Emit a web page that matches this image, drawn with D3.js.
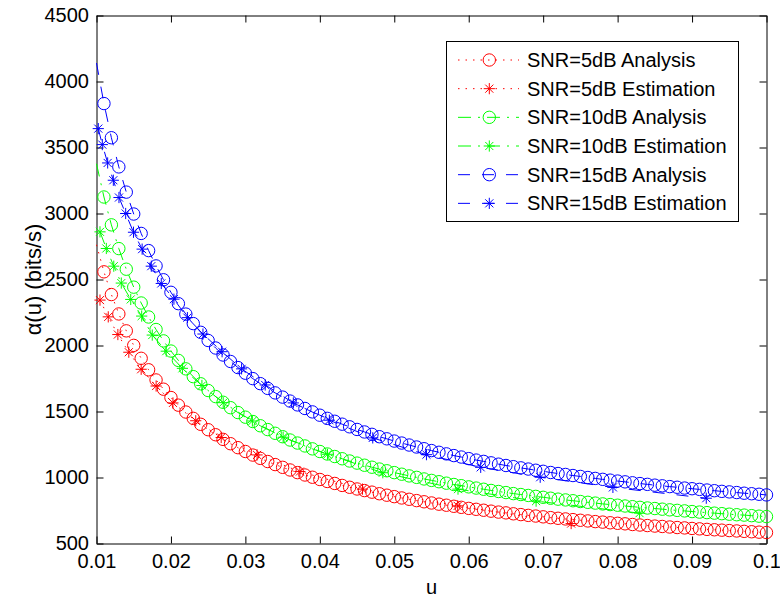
<!DOCTYPE html>
<html>
<head>
<meta charset="utf-8">
<script src="https://cdn.jsdelivr.net/npm/d3@7"></script>
<style>
  html, body { margin: 0; padding: 0; background: #fff; }
  svg { display: block; }
  text { font-family: "Liberation Sans", Arial, Helvetica, sans-serif; fill: #000; }
</style>
</head>
<body>
<svg id="chart" width="780" height="597"></svg>
<script>
// u grid (0.010 .. 0.100, step 0.001) used by the analytical curves
const uGrid = d3.range(10, 101).map(n => n / 1000);

// Analytical throughput α(u) in bits/s
const analysis5 = [
  2763, 2558, 2386, 2239, 2111, 2001, 1903, 1816, 1739, 1669,
  1606, 1548, 1496, 1448, 1403, 1362, 1324, 1289, 1256, 1226,
  1197, 1170, 1145, 1121, 1098, 1077, 1057, 1037, 1019, 1002,
  985, 970, 955, 940, 926, 913, 901, 889, 877, 866,
  855, 845, 835, 825, 816, 807, 798, 790, 782, 774,
  766, 759, 752, 745, 738, 732, 725, 719, 713, 708,
  702, 696, 691, 686, 681, 676, 671, 666, 662, 657,
  653, 649, 644, 640, 636, 632, 629, 625, 621, 618,
  614, 611, 607, 604, 601, 598, 595, 592, 589, 586,
  583
];
const analysis10 = [
  3377, 3125, 2914, 2734, 2578, 2442, 2322, 2216, 2121, 2035,
  1958, 1887, 1823, 1764, 1710, 1659, 1613, 1570, 1529, 1492,
  1457, 1424, 1392, 1363, 1335, 1309, 1284, 1261, 1239, 1217,
  1197, 1178, 1159, 1142, 1125, 1109, 1093, 1078, 1064, 1051,
  1037, 1025, 1012, 1001, 989, 978, 968, 957, 947, 938,
  929, 920, 911, 902, 894, 886, 878, 871, 864, 857,
  850, 843, 836, 830, 824, 818, 812, 806, 800, 795,
  790, 784, 779, 774, 769, 765, 760, 755, 751, 747,
  742, 738, 734, 730, 726, 722, 718, 715, 711, 707,
  704
];
const analysis15 = [
  4140, 3833, 3574, 3353, 3162, 2996, 2849, 2719, 2603, 2498,
  2403, 2317, 2238, 2166, 2100, 2038, 1981, 1928, 1879, 1833,
  1790, 1749, 1711, 1675, 1641, 1609, 1579, 1550, 1523, 1497,
  1472, 1448, 1426, 1404, 1384, 1364, 1345, 1327, 1309, 1293,
  1276, 1261, 1246, 1231, 1218, 1204, 1191, 1179, 1166, 1155,
  1143, 1132, 1122, 1111, 1101, 1091, 1082, 1073, 1064, 1055,
  1047, 1038, 1030, 1023, 1015, 1008, 1000, 993, 986, 980,
  973, 967, 960, 954, 948, 942, 937, 931, 926, 920,
  915, 910, 905, 900, 895, 891, 886, 881, 877, 873,
  868
];

// Estimated throughput at the sampled u values
const est5U = [0.01047, 0.01158, 0.01287, 0.01434, 0.0160, 0.01801, 0.02027, 0.02333,
  0.02675, 0.03157, 0.03732, 0.04573, 0.05852, 0.07376];
const est5 = [2344, 2217, 2083, 1949, 1820, 1693, 1565, 1430, 1303, 1171, 1045, 912, 785, 651];

const est10U = [0.01047, 0.01132, 0.01232, 0.01333, 0.0146, 0.01607, 0.01749, 0.01937,
  0.02154, 0.02416, 0.02702, 0.03094, 0.03507, 0.04103, 0.04846, 0.05856, 0.06905, 0.08295];
const est10 = [2861, 2735, 2601, 2473, 2349, 2223, 2079, 1957, 1827, 1697, 1567, 1428,
  1305, 1176, 1036, 912, 821, 730];

const est15U = [0.01024, 0.01078, 0.0115, 0.01226, 0.01302, 0.01392, 0.01497, 0.01613,
  0.01736, 0.0187, 0.0204, 0.02221, 0.0243, 0.02687, 0.02949, 0.03266, 0.03644, 0.04128,
  0.04711, 0.05432, 0.06161, 0.0696, 0.07937, 0.09191];
const est15 = [3643, 3522, 3383, 3252, 3121, 3000, 2858, 2730, 2601, 2470, 2351, 2211,
  2087, 1953, 1823, 1701, 1565, 1434, 1300, 1173, 1077, 1002, 925, 843];

const xTicks = [0.01, 0.02, 0.03, 0.04, 0.05, 0.06, 0.07, 0.08, 0.09, 0.1];
const yTicks = [500, 1000, 1500, 2000, 2500, 3000, 3500, 4000, 4500];
const legendLabels = [
  "SNR=5dB Analysis", "SNR=5dB Estimation",
  "SNR=10dB Analysis", "SNR=10dB Estimation",
  "SNR=15dB Analysis", "SNR=15dB Estimation"
];

const svg = d3.select("#chart");
const L = 96.5, R = 766.5, T = 15.5, B = 543.5;
const x = d3.scaleLinear().domain([0.01, 0.1]).range([L, R]);
const y = d3.scaleLinear().domain([500, 4500]).range([B, T]);

const styles = {
  dot:     "1.5,6",
  dashdot: "13,7,2,7",
  dash:    "12,12"
};

const series = [
  { u: uGrid,  v: analysis5,  color: "#ff0000", dash: styles.dot,     marker: "o", skipFirst: true },
  { u: est5U,  v: est5,       color: "#ff0000", dash: styles.dot,     marker: "*" },
  { u: uGrid,  v: analysis10, color: "#00ff00", dash: styles.dashdot, marker: "o", skipFirst: true },
  { u: est10U, v: est10,      color: "#00ff00", dash: styles.dashdot, marker: "*" },
  { u: uGrid,  v: analysis15, color: "#0000ff", dash: styles.dash,    marker: "o", skipFirst: true },
  { u: est15U, v: est15,      color: "#0000ff", dash: styles.dash,    marker: "*" }
];

function starPath(r) {
  const d = r * 0.72;
  return `M${-r},0H${r}M0,${-r}V${r}M${-d},${-d}L${d},${d}M${-d},${d}L${d},${-d}`;
}
function drawMarker(g, kind, cx, cy, color) {
  if (kind === "o") {
    g.append("circle").attr("cx", cx).attr("cy", cy).attr("r", 6.2)
      .attr("fill", "none").attr("stroke", color).attr("stroke-width", 1);
  } else {
    g.append("path").attr("transform", `translate(${cx},${cy})`)
      .attr("d", starPath(5.6)).attr("fill", "none")
      .attr("stroke", color).attr("stroke-width", 1);
  }
}

// Axes box with inward ticks on all four sides
const fmtX = d => String(+d.toFixed(2));
svg.append("g").attr("transform", `translate(0,${B})`)
  .call(d3.axisBottom(x).tickValues(xTicks).tickFormat(fmtX).tickSizeInner(-7).tickSizeOuter(0).tickPadding(10.5))
  .call(g => g.selectAll("text").attr("font-size", 20));
svg.append("g").attr("transform", `translate(0,${T})`)
  .call(d3.axisTop(x).tickValues(xTicks).tickFormat("").tickSizeInner(-7).tickSizeOuter(0));
svg.append("g").attr("transform", `translate(${L},0)`)
  .call(d3.axisLeft(y).tickValues(yTicks).tickFormat(d3.format("d")).tickSizeInner(-7).tickSizeOuter(0).tickPadding(7.5))
  .call(g => g.selectAll("text").attr("font-size", 20));
svg.append("g").attr("transform", `translate(${R},0)`)
  .call(d3.axisRight(y).tickValues(yTicks).tickFormat("").tickSizeInner(-7).tickSizeOuter(0));
svg.selectAll(".domain, .tick line").attr("stroke", "#000").attr("stroke-width", 1);
svg.selectAll(".tick text").attr("fill", "#000").attr("font-family", '"Liberation Sans", Arial, sans-serif');

// Data series
const plot = svg.append("g");
const line = d3.line().x(d => x(d[0])).y(d => y(d[1]));
series.forEach(s => {
  const pts = s.u.map((u, i) => [u, s.v[i]]);
  const g = plot.append("g");
  g.append("path").attr("d", line(pts)).attr("fill", "none")
    .attr("stroke", s.color).attr("stroke-width", 1).attr("stroke-dasharray", s.dash);
  pts.forEach((p, i) => {
    if (s.skipFirst && i === 0) return;
    drawMarker(g, s.marker, x(p[0]), y(p[1]), s.color);
  });
});

// Axis titles
svg.append("text").attr("x", (L + R) / 2).attr("y", 594).attr("text-anchor", "middle")
  .attr("font-size", 20).text("u");
svg.append("text").attr("transform", `translate(41,${(T + B) / 2}) rotate(-90)`)
  .attr("text-anchor", "middle").attr("font-size", 22).text("α(u) (bits/s)");

// Legend
const lg = svg.append("g");
lg.append("rect").attr("x", 446.5).attr("y", 41.5).attr("width", 292).attr("height", 180)
  .attr("fill", "#fff").attr("stroke", "#000").attr("stroke-width", 1);
series.forEach((s, i) => {
  const cy = 60 + i * 28.67;
  lg.append("line").attr("x1", 458).attr("x2", 519).attr("y1", cy).attr("y2", cy)
    .attr("stroke", s.color).attr("stroke-width", 1).attr("stroke-dasharray", s.dash);
  drawMarker(lg, s.marker, 489.3, cy, s.color);
  lg.append("text").attr("x", 527).attr("y", cy + 7).attr("font-size", 20).text(legendLabels[i]);
});
</script>
</body>
</html>
